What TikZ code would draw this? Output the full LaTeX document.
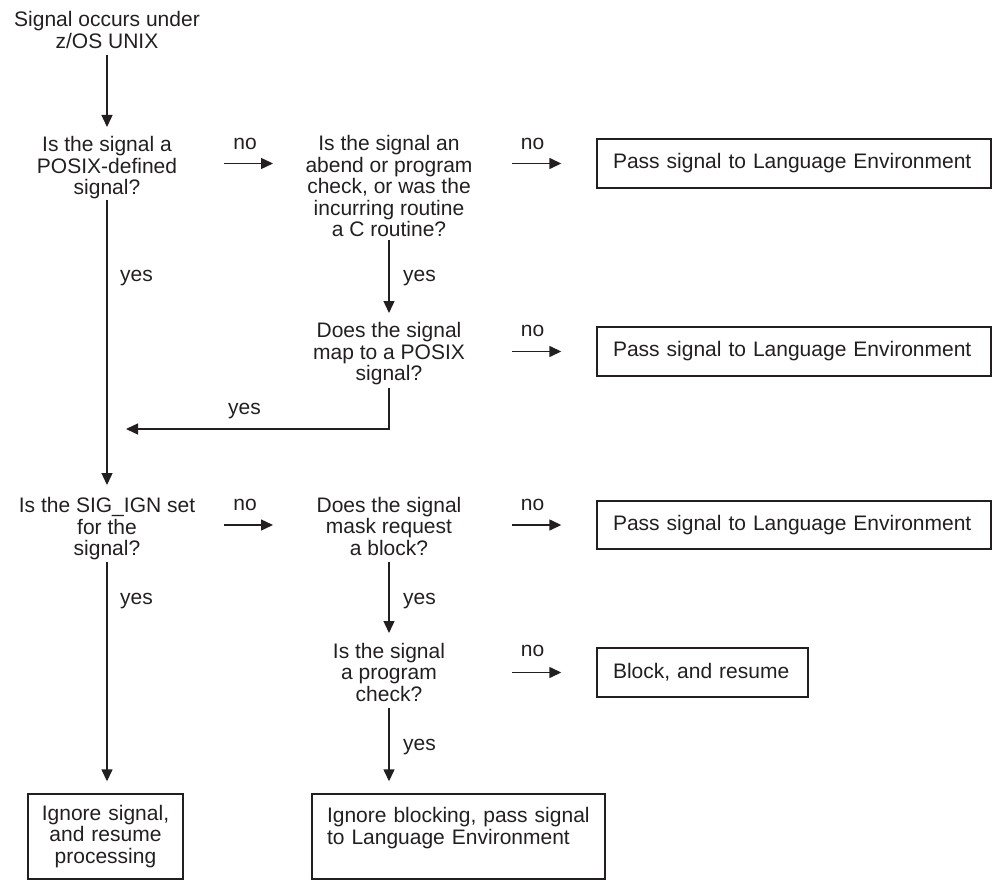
\documentclass[tikz,border=0pt]{standalone}
\usepackage{fontspec}
\setmainfont{Liberation Sans}
\usetikzlibrary{arrows.meta}
\definecolor{ink}{HTML}{231F20}
\begin{document}
\begin{tikzpicture}[x=1pt,y=-1pt,
  txt/.style={font=\fontsize{21}{21.5}\selectfont, text=ink, inner sep=0pt, align=center},
  lbl/.style={font=\fontsize{21}{21.5}\selectfont, text=ink, inner sep=0pt},
  boxnode/.style={draw=ink, line width=1.4pt, font=\fontsize{21}{21.5}\selectfont, text=ink, inner ysep=0pt},
  arr/.style={draw=ink, line width=1.4pt, -{Triangle[length=12pt,width=11pt]}},
  plain/.style={draw=ink, line width=1.4pt}
]
\useasboundingbox (0,0) rectangle (992,882);

% question / text nodes
\node[txt] (start) at (107,30) {Signal occurs under\\z/OS UNIX};
\node[txt] (q1) at (107,167.7) {Is the signal a\\POSIX-defined\\signal?};
\node[txt] (q2) at (389,186) {Is the signal an\\abend or program\\check, or was the\\incurring routine\\a C routine?};
\node[txt] (q3) at (389,354) {Does the signal\\map to a POSIX\\signal?};
\node[txt] (q4) at (107,529) {Is the SIG\_IGN set\\for the\\signal?};
\node[txt] (q5) at (389,526) {Does the signal\\mask request\\a block?};
\node[txt] (q6) at (389,672) {Is the signal\\a program\\check?};

% boxes
\node[boxnode, minimum width=394pt, minimum height=49pt, text width=362pt, inner xsep=16pt, align=left] (box1) at (794,163.5) {Pass signal to Language Environment};
\node[boxnode, minimum width=394pt, minimum height=49pt, text width=362pt, inner xsep=16pt, align=left] (box2) at (794,351.5) {Pass signal to Language Environment};
\node[boxnode, minimum width=394pt, minimum height=48pt, text width=362pt, inner xsep=16pt, align=left] (box3) at (794,525) {Pass signal to Language Environment};
\node[boxnode, minimum width=211pt, minimum height=49pt, text width=179pt, inner xsep=16pt, align=left] (box4) at (702.5,672.5) {Block, and resume};
\node[boxnode, minimum width=155pt, minimum height=85pt, text width=139pt, inner xsep=8pt, align=center] (box5) at (105.5,836.5) {Ignore signal,\\and resume\\processing};
\node[boxnode, minimum width=293pt, minimum height=85pt, text width=263pt, inner xsep=15pt, align=left] (box6) at (458.5,836.5) {Ignore blocking, pass signal\\to Language Environment\\\mbox{}};

% labels
\node[lbl, anchor=base] (no1) at (245,149.5) {no};
\node[lbl, anchor=base] (no2) at (532.5,149.5) {no};
\node[lbl, anchor=base] (no3) at (532.5,336.5) {no};
\node[lbl, anchor=base] (no4) at (245,510.5) {no};
\node[lbl, anchor=base] (no5) at (532.5,510.5) {no};
\node[lbl, anchor=base] (no6) at (532.5,656.5) {no};
\node[lbl, anchor=base west] (yes1) at (120,282) {yes};
\node[lbl, anchor=base west] (yes2) at (403,282) {yes};
\node[lbl, anchor=base west] (yes3) at (228,414) {yes};
\node[lbl, anchor=base west] (yes4) at (120,604) {yes};
\node[lbl, anchor=base west] (yes5) at (403,604) {yes};
\node[lbl, anchor=base west] (yes6) at (403,750) {yes};

\coordinate (join) at (126,429);

% connectors
\draw[arr, shorten <=25pt, shorten >=40.7pt] (start.center) -- (q1.center);
\draw[arr, shorten <=32.3pt, shorten >=44pt] (q1.center) -- (q4.center);
\draw[arr, shorten <=117pt, shorten >=116pt] (q1.center |- box1.west) -- (q2.center |- box1.west);
\draw[arr, shorten <=123pt, shorten >=35pt] (q2.center |- box1.west) -- (box1.west);
\draw[arr, shorten <=54pt, shorten >=41pt] (q2.center) -- (q3.center);
\draw[arr, shorten <=123pt, shorten >=35pt] (q3.center |- box2.west) -- (box2.west);
\draw[arr, shorten <=34pt] (q3.center) |- (join);
\draw[arr, shorten <=117pt, shorten >=116pt] (q4.center |- box3.west) -- (q5.center |- box3.west);
\draw[arr, shorten <=123pt, shorten >=35pt] (q5.center |- box3.west) -- (box3.west);
\draw[arr, shorten <=33pt, shorten >=12pt] (q4.center) -- (q4.center |- box5.north);
\draw[arr, shorten <=36pt, shorten >=39pt] (q5.center) -- (q6.center);
\draw[arr, shorten <=123pt, shorten >=35pt] (q6.center |- box4.west) -- (box4.west);
\draw[arr, shorten <=36pt, shorten >=12pt] (q6.center) -- (q6.center |- box6.north);
\end{tikzpicture}
\end{document}
